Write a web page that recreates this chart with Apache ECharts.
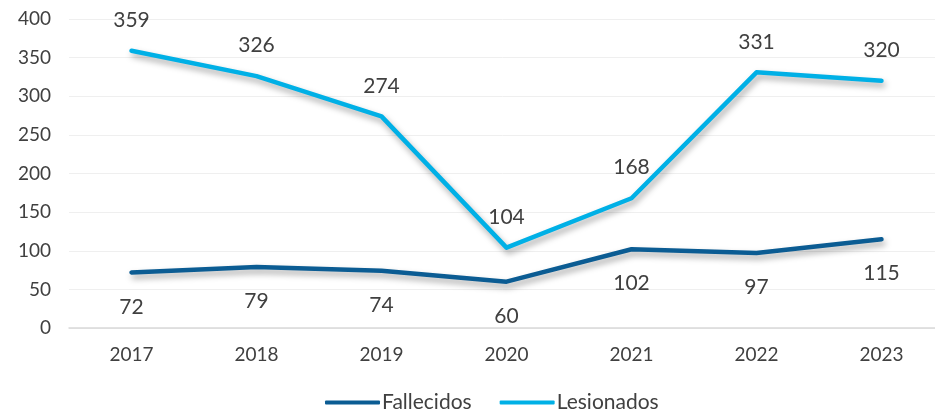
<!DOCTYPE html>
<html>
<head>
<meta charset="utf-8">
<script src="https://cdn.jsdelivr.net/npm/echarts@6/dist/echarts.min.js"></script>
<style>
  html, body { margin: 0; padding: 0; background: #fff; }
  #chart { width: 935px; height: 418px; }
</style>
</head>
<body>
<div id="chart"></div>
<script>
const years = ['2017', '2018', '2019', '2020', '2021', '2022', '2023']
const fallecidos = [72, 79, 74, 60, 102, 97, 115]
const lesionados = [359, 326, 274, 104, 168, 331, 320]
const yTicks = { min: 0, max: 400, interval: 50 }

const chart = echarts.init(document.getElementById('chart'))

function lineSeries (name, data, color, pos, dist) {
  return {
    name: name,
    type: 'line',
    data: data,
    symbol: 'circle',
    symbolSize: 0,
    showSymbol: true,
    smooth: false,
    lineStyle: {
      color: color,
      width: 4.5,
      cap: 'round',
      join: 'round',
      shadowColor: 'rgba(0,0,0,0.35)',
      shadowBlur: 6,
      shadowOffsetX: 2,
      shadowOffsetY: 4
    },
    itemStyle: { color: color },
    label: {
      show: true,
      position: pos,
      distance: dist,
      color: '#404040',
      fontSize: 21,
      fontFamily: 'Lato'
    }
  }
}

chart.setOption({
  animation: false,
  grid: { left: 69, top: 19, width: 875, bottom: 90, outerBoundsMode: 'none' },
  legend: {
    bottom: 0,
    left: 320,
    itemWidth: 55,
    itemHeight: 4,
    itemGap: 28,
    icon: 'roundRect',
    textStyle: { color: '#404040', fontSize: 21, fontFamily: 'Lato', padding: [0, 0, 0, -3] },
    data: ['Fallecidos', 'Lesionados']
  },
  xAxis: {
    type: 'category',
    data: years,
    axisTick: { show: false },
    axisLine: { lineStyle: { color: '#d9d9d9', width: 1.5 } },
    axisLabel: { color: '#404040', fontSize: 19, fontFamily: 'Lato', margin: 17 }
  },
  yAxis: {
    type: 'value',
    min: yTicks.min,
    max: yTicks.max,
    interval: yTicks.interval,
    axisLine: { show: false },
    axisTick: { show: false },
    splitLine: { lineStyle: { color: '#efefef', width: 1 } },
    axisLabel: { color: '#404040', fontSize: 19, fontFamily: 'Lato', margin: 18 }
  },
  series: [
    lineSeries('Fallecidos', fallecidos, '#0b5c93', 'bottom', 24),
    lineSeries('Lesionados', lesionados, '#00b0e6', 'top', 20)
  ]
})
</script>
</body>
</html>
